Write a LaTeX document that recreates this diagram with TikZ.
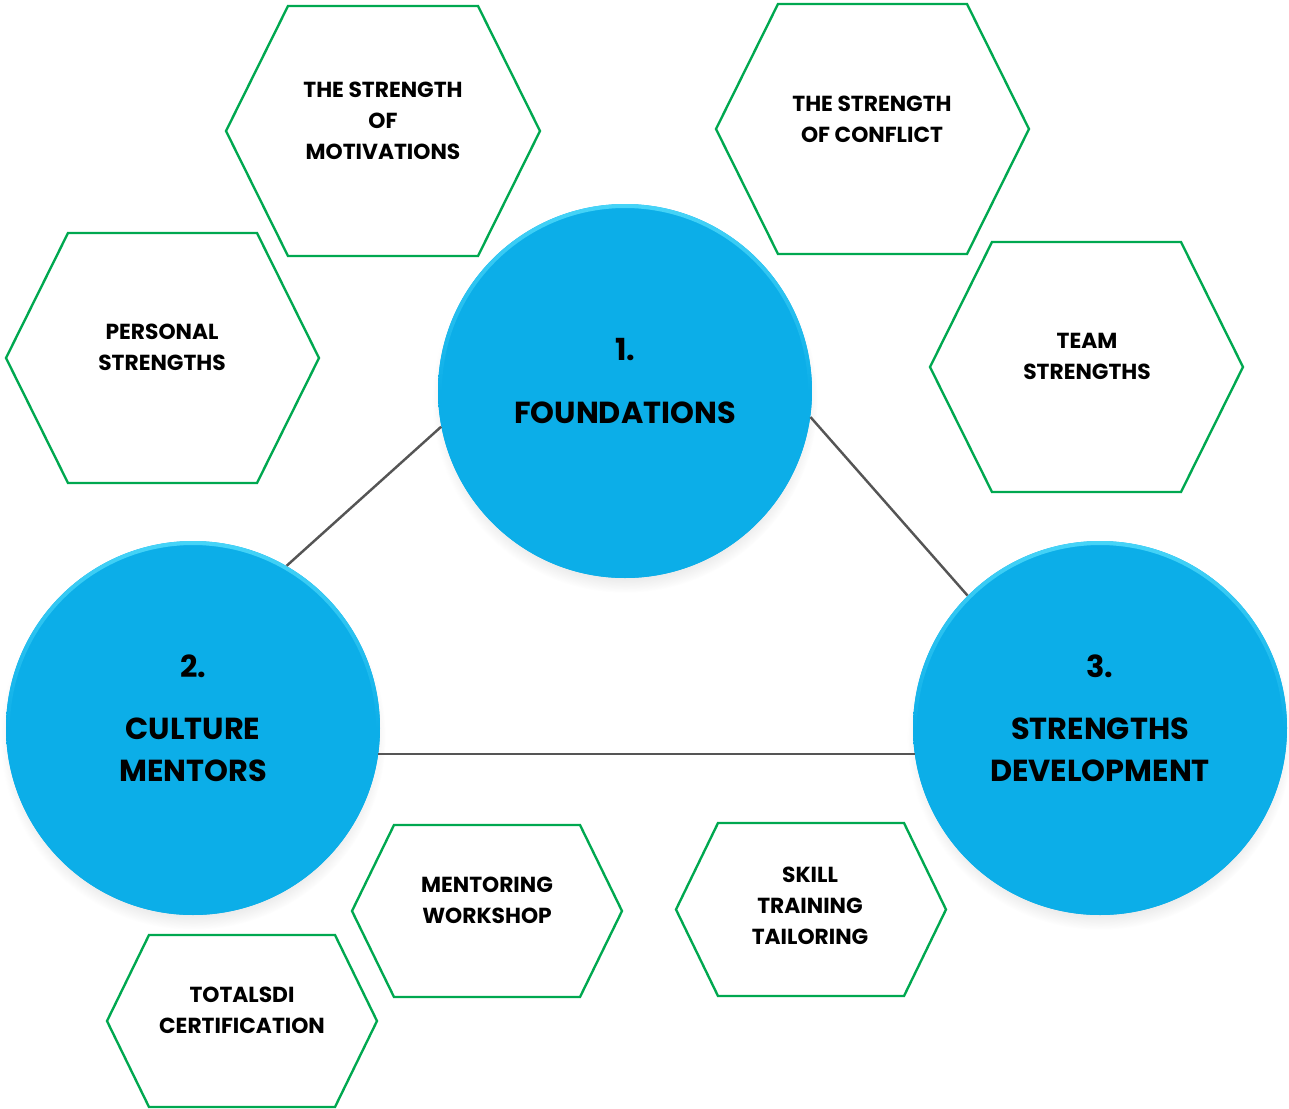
\documentclass[tikz,border=0pt]{standalone}
\usepackage{fontspec}
\setmainfont{Poppins}
\usetikzlibrary{shadows}
\definecolor{hexgreen}{RGB}{0,168,80}
\definecolor{ballblue}{RGB}{12,174,232}
\definecolor{balllight}{RGB}{70,212,248}
\definecolor{linkgray}{RGB}{85,85,85}
\newcommand\hexbox[7]{% name, cx, cy, half width, half height, inset, text
  \draw[hexline] ({#2-#4},#3) -- ({#2-#4+#6},{#3-#5}) -- ({#2+#4-#6},{#3-#5}) -- ({#2+#4},#3)
    -- ({#2+#4-#6},{#3+#5}) -- ({#2-#4+#6},{#3+#5}) -- cycle;
}
\begin{document}
\begin{tikzpicture}[x=0.02cm,y=-0.02cm,
  ball/.style={circle, minimum size=7.48cm, inner sep=0pt, fill=ballblue,
    circular drop shadow={shadow scale=1.03, shadow xshift=0pt, shadow yshift=-5pt, opacity=0.3}},
  hexline/.style={draw=hexgreen, line width=1.35pt, line join=miter},
  hextext/.style={align=center, font=\fontsize{12.4}{17.6}\selectfont\bfseries, inner sep=0pt},
  balltext/.style={align=center, font=\fontsize{17.3}{23.8}\selectfont\bfseries, inner sep=0pt},
  link/.style={draw=linkgray, line width=1.4pt}]
\useasboundingbox (0,0) rectangle (1289,1109);

% hexagons
\hexbox{hm}{383}{131}{157}{125}{62}{}
\node[hextext] (hmt) at (383,121) {THE STRENGTH\\OF\\MOTIVATIONS};
\hexbox{hc}{872.5}{129}{156.5}{125}{62}{}
\node[hextext] (hct) at (872,119) {THE STRENGTH\\OF CONFLICT};
\hexbox{hp}{162.5}{358}{156.5}{125}{62}{}
\node[hextext] (hpt) at (162,347) {PERSONAL\\STRENGTHS};
\hexbox{ht}{1086.5}{367}{156.5}{125}{62}{}
\node[hextext] (htt) at (1087,356) {TEAM\\STRENGTHS};
\hexbox{hw}{487}{911}{135}{86}{42}{}
\node[hextext] (hwt) at (487,900) {MENTORING\\WORKSHOP};
\hexbox{hs}{811}{909.5}{135}{86.5}{42}{}
\node[hextext] (hst) at (810,906) {SKILL\\TRAINING\\TAILORING};
\hexbox{hd}{242}{1021}{135}{86}{42}{}
\node[hextext] (hdt) at (242,1010) {TOTALSDI\\CERTIFICATION};

% balls
\foreach \n/\x/\y in {c1/625/391, c2/193/728, c3/1100/728}{
  \node[ball] (\n) at (\x,\y) {};
  \shade[even odd rule, top color=balllight, bottom color=ballblue, middle color=ballblue]
    (\x,\y) circle[radius=187] (\x,\y) circle[radius=183];
}
\node[balltext] (c1n) at (625,350) {1.};
\node[balltext] (c1t) at (625,413) {FOUNDATIONS};
\node[balltext] (c2n) at (193,666) {2.};
\node[balltext] (c2t) at (193,750) {CULTURE\\MENTORS};
\node[balltext] (c3n) at (1100,666) {3.};
\node[balltext] (c3t) at (1100,750) {STRENGTHS\\DEVELOPMENT};

% links
\draw[link] (c1.191.3) -- (c2.60.4);
\draw[link] (c1.-8.9) -- (c3.135.4);
\draw[link] (c2.-8.2) -- (c3.188.8);
\end{tikzpicture}
\end{document}
